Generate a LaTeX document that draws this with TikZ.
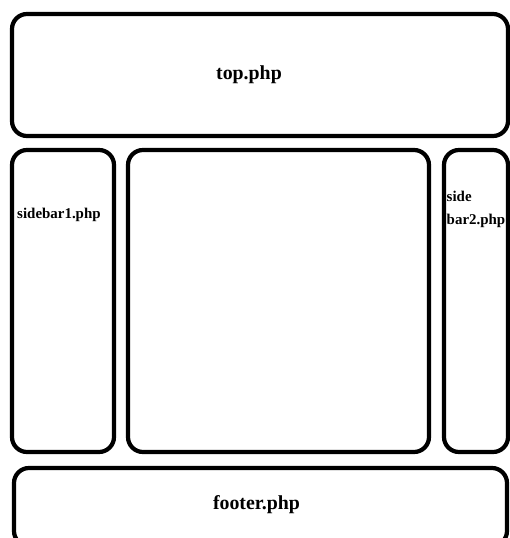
\documentclass[tikz,border=0pt]{standalone}
\usepackage{fontspec}
\setmainfont{Liberation Serif}
\usetikzlibrary{positioning, calc}

\begin{document}
\begin{tikzpicture}[node distance=0.28cm,
  pane/.style={draw,line width=2.4pt,rounded corners=0.3cm,inner sep=0pt},
  bigtext/.style={font=\bfseries\fontsize{11.3}{13}\selectfont},
  sidetext/.style={font=\bfseries\fontsize{8.5}{13}\selectfont,align=left,inner sep=0pt}]
\useasboundingbox (0,0) rectangle (10.2,10.76);
\clip (0,0) rectangle (10.2,10.76);
\node[pane,bigtext,minimum width=9.92cm,minimum height=2.44cm] (top) at (5.2,9.26) {\hspace*{-0.44cm}top.php};
\node[pane,minimum width=2.04cm,minimum height=6.04cm] (side1) at (1.26,4.74) {};
\node[pane,minimum width=6.02cm,minimum height=6.04cm] (content) at (5.57,4.74) {};
\node[pane,minimum width=1.28cm,minimum height=6.04cm] (side2) at (9.52,4.74) {};
\node[pane,bigtext,minimum width=9.86cm,minimum height=1.56cm] (footer) at (5.21,0.62) {\raisebox{0.18cm}{\hspace*{-0.16cm}footer.php}};
\node[sidetext,anchor=west] (side1txt) at ($(side1.north west)+(0.14cm,-1.34cm)$) {sidebar1.php};
\node[sidetext,anchor=north west] (side2txt) at ($(side2.north west)+(0.09cm,-0.86cm)$) {side\\bar2.php};
\end{tikzpicture}
\end{document}
